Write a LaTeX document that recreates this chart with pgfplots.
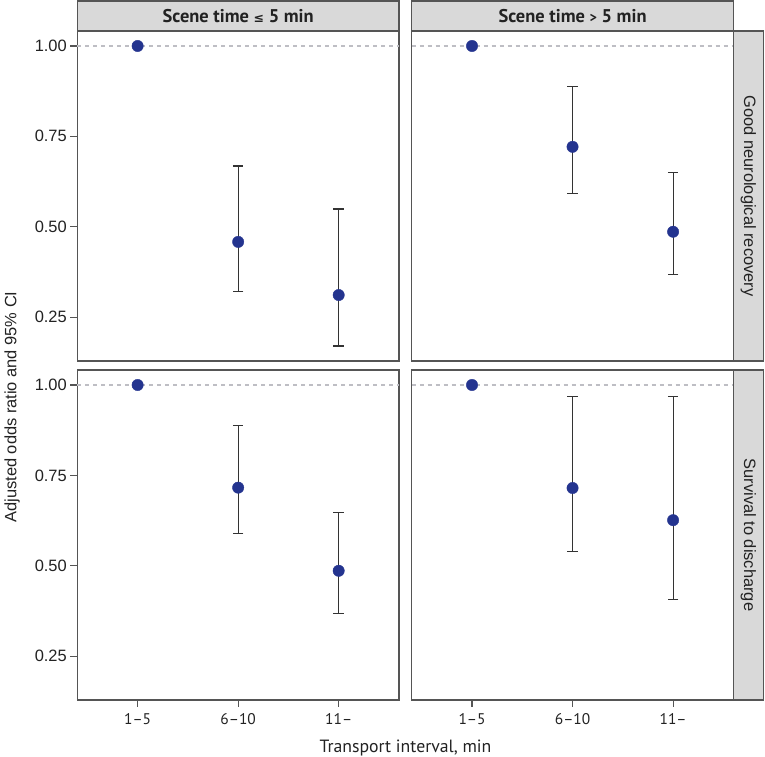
\documentclass[border=0pt]{standalone}
\usepackage{pgfplots}
\usepackage{pgfplotstable}
\pgfplotsset{compat=1.18}
\usepackage{fontspec}
\setmainfont{Liberation Sans}
\newfontfamily\ptsans{PT Sans}
\newfontfamily\dejavu{DejaVu Sans}
\definecolor{ptcol}{HTML}{24348F}
\definecolor{framecol}{HTML}{555555}
\definecolor{stripfill}{HTML}{D9D9D9}
\definecolor{refline}{HTML}{BEBEC4}
\definecolor{ebar}{HTML}{333333}
\definecolor{txt}{HTML}{222222}

% points
\pgfplotstableread{
x y
1 1.000
2 0.458
3 0.311
}\ptTL
\pgfplotstableread{
x y
1 1.000
2 0.721
3 0.486
}\ptTR
\pgfplotstableread{
x y
1 1.000
2 0.716
3 0.486
}\ptBL
\pgfplotstableread{
x y
1 1.000
2 0.715
3 0.626
}\ptBR
% confidence intervals
\pgfplotstableread{
x y lo hi
2 0.458 0.320 0.668
3 0.311 0.170 0.549
}\ciTL
\pgfplotstableread{
x y lo hi
2 0.721 0.591 0.889
3 0.486 0.369 0.649
}\ciTR
\pgfplotstableread{
x y lo hi
2 0.716 0.588 0.887
3 0.486 0.368 0.647
}\ciBL
\pgfplotstableread{
x y lo hi
2 0.715 0.540 0.968
3 0.626 0.407 0.967
}\ciBR

\pgfplotsset{
  panel/.style={
    scale only axis, width=321.7bp, height=330bp,
    anchor=south west,
    xmin=0.4, xmax=3.6, ymin=0.1285, ymax=1.0415,
    axis line style={framecol, line width=1.1bp},
    tick style={framecol, line width=1.1bp},
    major tick length=7bp,
    tick align=outside,
    tick pos=left,
    xtick={1,2,3},
    xticklabels={1–5,6–10,11–},
    ytick={0.25,0.5,0.75,1},
    yticklabels={0.25,0.50,0.75,1.00},
    yticklabel style={font=\fontsize{16.5}{18}\selectfont, text=txt},
    xticklabel style={font=\ptsans\fontsize{15.5}{17}\selectfont, text=txt, yshift=-3bp},
    clip=false,
  },
  notop/.style={xtick=\empty},
  noleft/.style={ytick=\empty},
  errs/.style={forget plot, only marks, mark=none,
    error bars/.cd, y dir=both, y explicit, error mark=|,
    error mark options={ebar, mark size=5.3bp, line width=1.1bp},
    error bar style={ebar, line width=1.1bp}},
  pts/.style={only marks, mark=*, mark size=5.7bp, mark options={draw=ptcol, fill=ptcol}},
  ref/.style={refline, line width=1.1bp, dash pattern=on 4bp off 4bp},
}

\newcommand{\panelbody}[2]{%
  \addplot[ref] coordinates {(0.4,1) (3.6,1)};
  \addplot[errs] table[x=x, y=y, y error plus expr=\thisrow{hi}-\thisrow{y}, y error minus expr=\thisrow{y}-\thisrow{lo}] {#2};
  \addplot[pts] table[x=x, y=y] {#1};
}

\begin{document}
\begin{tikzpicture}[x=1bp,y=1bp]
\useasboundingbox (0,0) rectangle (765,757);

\begin{axis}[panel, notop, name=tl, at={(77.3bp,396bp)}]
\panelbody{\ptTL}{\ciTL}
\end{axis}
\begin{axis}[panel, notop, noleft, name=tr, at={(411.7bp,396bp)}]
\panelbody{\ptTR}{\ciTR}
\end{axis}
\begin{axis}[panel, name=bl, at={(77.3bp,57bp)}]
\panelbody{\ptBL}{\ciBL}
\end{axis}
\begin{axis}[panel, noleft, name=br, at={(411.7bp,57bp)}]
\panelbody{\ptBR}{\ciBR}
\end{axis}

% top strips
\draw[framecol, fill=stripfill, line width=1.1bp] (tl.north west) rectangle ++(321.7,30)
  node[midway, text=txt, font=\ptsans\bfseries\fontsize{18.5}{20}\selectfont] {Scene time {\dejavu\bfseries\fontsize{12.5}{14}\selectfont ≤} 5 min};
\draw[framecol, fill=stripfill, line width=1.1bp] (tr.north west) rectangle ++(321.7,30)
  node[midway, text=txt, font=\ptsans\bfseries\fontsize{18.5}{20}\selectfont] {Scene time {\fontsize{14}{14}\selectfont >} 5 min};
% right strips
\draw[framecol, fill=stripfill, line width=1.1bp] (tr.north east) rectangle ++(30,-330)
  node[midway, rotate=-90, text=txt, font=\fontsize{16.5}{18}\selectfont] {Good neurological recovery};
\draw[framecol, fill=stripfill, line width=1.1bp] (br.north east) rectangle ++(30,-330)
  node[midway, rotate=-90, text=txt, font=\fontsize{16.5}{18}\selectfont] {Survival to discharge};

% axis titles
\node[rotate=90, text=txt, font=\fontsize{16.5}{18}\selectfont] at (12,350) {Adjusted odds ratio and 95\% CI};
\node[anchor=base, text=txt, font=\ptsans\fontsize{17.8}{19}\selectfont] at (405.5,4) {Transport interval, min};
\end{tikzpicture}
\end{document}
